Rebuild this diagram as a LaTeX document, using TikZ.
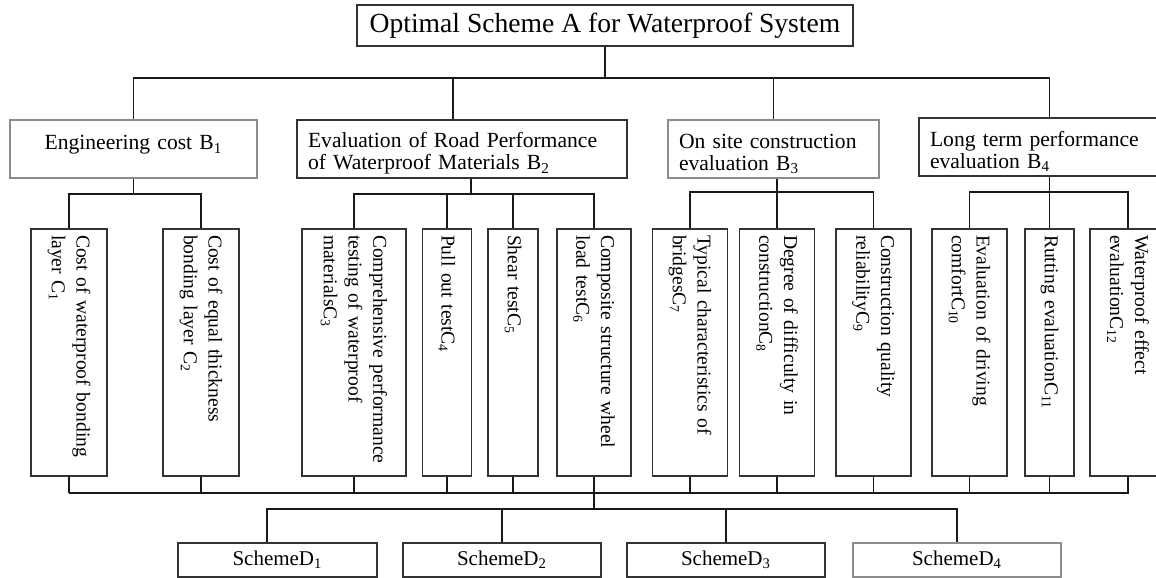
\documentclass[tikz,border=0pt]{standalone}
\usepackage{fontspec}
\setmainfont{Liberation Serif}
\usetikzlibrary{positioning,calc}

\begin{document}
\begin{tikzpicture}[x=0.5pt, y=-0.5pt,
	link/.style={draw=black!90, line width=0.9pt},
	box/.style={draw=black!80, line width=0.7pt, rectangle, inner sep=0pt},
	goalbox/.style={box, minimum width=248pt, minimum height=20.5pt, font=\fontsize{13.8}{16}\selectfont},
	critbox/.style={box, minimum height=29pt, inner xsep=5.5pt, align=left, font=\fontsize{10.8}{11.2}\selectfont,
		execute at begin node={\rule{0pt}{12pt}}},
	indexbox/.style={box, rotate=-90, minimum width=123.5pt, inner xsep=3pt, text width=117.5pt, align=left,
		font=\fontsize{9.8}{12.4}\selectfont},
	schemebox/.style={box, minimum height=17pt, font=\fontsize{10.5}{12}\selectfont}]
	\useasboundingbox (0,0) rectangle (1156,578);
	% goal
	\node[goalbox] (a) at (605,25.5) {Optimal Scheme A for Waterproof System};
	% criteria
	\node[critbox, draw=black!45, minimum width=123.5pt, text width=112.5pt, align=center] (b1) at (133.5,149) {Engineering cost B\textsubscript{1}\\ ~};
	\node[critbox, minimum width=165pt, text width=154pt] (b2) at (462,149) {Evaluation of Road Performance\\ of Waterproof Materials B\textsubscript{2}};
	\node[critbox, draw=black!45, minimum width=105.5pt, text width=94.5pt] (b3) at (773.5,149) {On site construction\\ evaluation B\textsubscript{3}};
	\node[critbox, minimum width=130.5pt, text width=119.5pt] (b4) at (1049.5,147) {Long term performance\\ evaluation B\textsubscript{4}};
	% indexes
	\node[indexbox, minimum height=38pt] (c1) at (69,352.5) {Cost of waterproof bonding\\ layer C\textsubscript{1}};
	\node[indexbox, minimum height=38pt] (c2) at (201,352.5) {Cost of equal thickness\\ bonding layer C\textsubscript{2}};
	\node[indexbox, minimum height=52pt] (c3) at (354,352.5) {Comprehensive performance\\ testing of waterproof\\ materialsC\textsubscript{3}};
	\node[indexbox, minimum height=24.5pt] (c4) at (447,352.5) {Pull out testC\textsubscript{4}};
	\node[indexbox, minimum height=25pt] (c5) at (513,352.5) {Shear testC\textsubscript{5}};
	\node[indexbox, minimum height=37pt] (c6) at (594,352.5) {Composite structure wheel\\ load testC\textsubscript{6}};
	\node[indexbox, minimum height=37.5pt] (c7) at (690,352.5) {Typical characteristics of\\ bridgesC\textsubscript{7}};
	\node[indexbox, minimum height=37.5pt] (c8) at (777,352.5) {Degree of difficulty in\\ constructionC\textsubscript{8}};
	\node[indexbox, minimum height=37.5pt] (c9) at (873.5,352.5) {Construction quality\\ reliabilityC\textsubscript{9}};
	\node[indexbox, minimum height=37.5pt] (c10) at (969.5,352.5) {Evaluation of driving\\ comfortC\textsubscript{10}};
	\node[indexbox, minimum height=24.5pt] (c11) at (1049.5,352.5) {Rutting evaluationC\textsubscript{11}};
	\node[indexbox, minimum height=38pt] (c12) at (1128,352.5) {Waterproof effect\\ evaluationC\textsubscript{12}};
	% schemes
	\node[schemebox, minimum width=99.5pt] (d1) at (277.5,560) {SchemeD\textsubscript{1}};
	\node[schemebox, minimum width=99pt] (d2) at (502,560) {SchemeD\textsubscript{2}};
	\node[schemebox, minimum width=99pt] (d3) at (726,560) {SchemeD\textsubscript{3}};
	\node[schemebox, draw=black!45, minimum width=104pt] (d4) at (957,560) {SchemeD\textsubscript{4}};

	% goal -> criteria
	\draw[link] (a.south) -- ++(0,31) coordinate (ja);
	\draw[link] (b1.north) |- (ja) -| (b4.north);
	\draw[link] ([xshift=-4.5pt]b2.north) -- ([xshift=-4.5pt]b2.north |- ja);
	\draw[link] (b3.north) -- (b3.north |- ja);
	% criteria -> indexes (c.west is the top of a turned box)
	\draw[link] (b1.south) -- ++(0,15) coordinate (jb1);
	\draw[link] (c1.west) |- (jb1) -| (c2.west);
	\draw[link] ([xshift=4.5pt]b2.south) -- ++(0,15) coordinate (jb2);
	\draw[link] (c3.west) |- (jb2) -| (c6.west);
	\foreach \c in {c4,c5}
		\draw[link] (\c.west) -- (\c.west |- jb2);
	\draw[link] ([xshift=1.75pt]b3.south) -- (c8.west);
	\draw[link] (c7.west) -- ++(0,-36) -| (c9.west);
	\draw[link] (b4.south) -- (c11.west);
	\draw[link] (c10.west) -- ++(0,-36) -| (c12.west);
	% indexes -> schemes
	\draw[link] (c1.east) -- ++(0,16) coordinate (jc);
	\draw[link] (jc) -| (c12.east);
	\foreach \i in {2,...,11}
		\draw[link] (c\i.east) -- (c\i.east |- jc);
	\draw[link] (c6.east |- jc) -- ++(0,16) coordinate (jd);
	\draw[link] ([xshift=-5.25pt]d1.north) |- (jd) -| (d4.north);
	\draw[link] (d2.north) -- (d2.north |- jd);
	\draw[link] (d3.north) -- (d3.north |- jd);
\end{tikzpicture}
\end{document}
